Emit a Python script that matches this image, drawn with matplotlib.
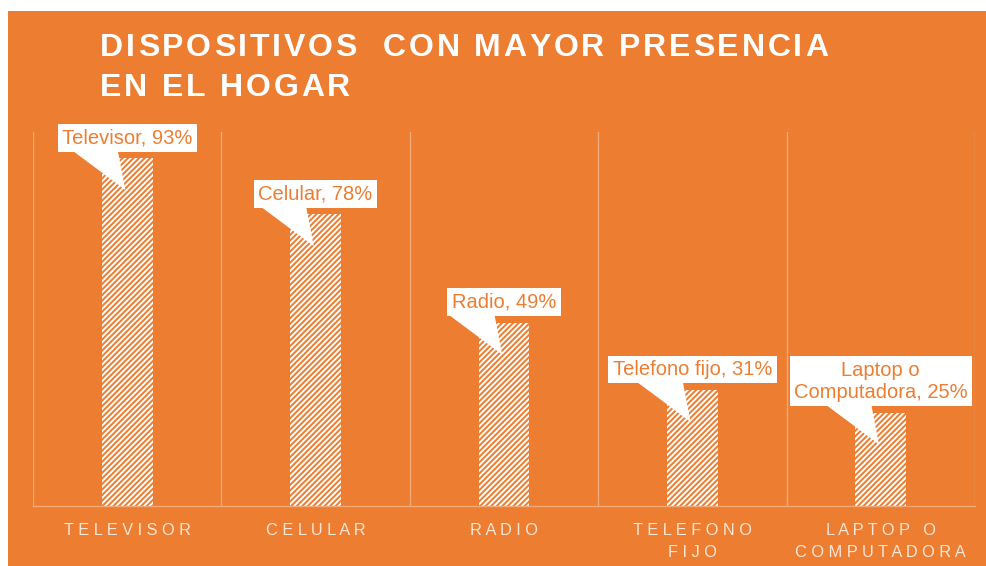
import numpy as np
import matplotlib.pyplot as plt
from matplotlib.patches import Rectangle, Polygon

categorias = ['TELEVISOR', 'CELULAR', 'RADIO', 'TELEFONO\nFIJO', 'LAPTOP O\nCOMPUTADORA']
valores = [0.93, 0.78, 0.49, 0.31, 0.25]
etiquetas = ['Televisor, 93%', 'Celular, 78%', 'Radio, 49%', 'Telefono fijo, 31%',
             'Laptop o\nComputadora, 25%']
titulo = ['DISPOSITIVOS  CON MAYOR PRESENCIA', 'EN EL HOGAR']

naranja = '#ED7D31'
grid_col = '#F3AA7A'
tick_col = '#FCE6D6'

plt.rcParams['font.family'] = ['Liberation Sans', 'DejaVu Sans']
plt.rcParams['hatch.linewidth'] = 1.4

W, H = 987, 566
fig = plt.figure(figsize=(W / 100, H / 100), dpi=100, facecolor='white')
fig.patches.append(Rectangle((8 / W, 0), 1 - 8 / W, 1 - 11 / H, transform=fig.transFigure,
                             facecolor=naranja, edgecolor='none', zorder=-10))

ax = fig.add_axes([33 / W, 1 - 506 / H, (975 - 33) / W, (506 - 132) / H])
ax.set_facecolor('none')
ax.set_zorder(1)

x = np.arange(len(categorias))
ax.bar(x, valores, width=0.27, facecolor='none', edgecolor='white', linewidth=0,
       hatch='//////', zorder=2)

for b in np.arange(-0.5, len(categorias), 1.0):
    ax.axvline(b, color=grid_col, lw=1, zorder=1)

ax.set_xlim(-0.5, len(categorias) - 0.5)
ax.set_ylim(0, 1)
for s in ['top', 'left', 'right']:
    ax.spines[s].set_visible(False)
ax.spines['bottom'].set_color(grid_col)
ax.spines['bottom'].set_linewidth(1)
ax.set_yticks([])


def espaciar(t):
    return '\n'.join('   '.join(' '.join(w) for w in linea.split(' ')) for linea in t.split('\n'))


ax.set_xticks(x)
ax.set_xticklabels([espaciar(c) for c in categorias], color=tick_col, fontsize=11.8,
                   linespacing=1.65)
ax.tick_params(axis='x', length=0, pad=12)

# callouts
for xi, v, lab in zip(x, valores, etiquetas):
    poly = Polygon([(xi - 0.29, v + 0.02), (xi - 0.05, v + 0.02), (xi - 0.01, v - 0.085)],
                   closed=True, facecolor='white', edgecolor='none', zorder=3)
    ax.add_patch(poly)
    ax.annotate(lab, xy=(xi, v), xytext=(0, 11), textcoords='offset pixels',
                ha='center', va='bottom', fontsize=14.5, color=naranja, zorder=4,
                linespacing=1.2,
                bbox=dict(boxstyle='square,pad=0.22', facecolor='white', edgecolor='none'))

# title with letter spacing
renderer = fig.canvas.get_renderer()
tracking = 2.8
y0 = 33
for linea in titulo:
    px = 100
    for ch in linea:
        t = fig.text(px / W, 1 - y0 / H, ch, ha='left', va='top', fontsize=23,
                     fontweight='bold', color='white')
        px += t.get_window_extent(renderer).width + tracking
    y0 += 40

fig.savefig('out.png', dpi=100, facecolor='white')
